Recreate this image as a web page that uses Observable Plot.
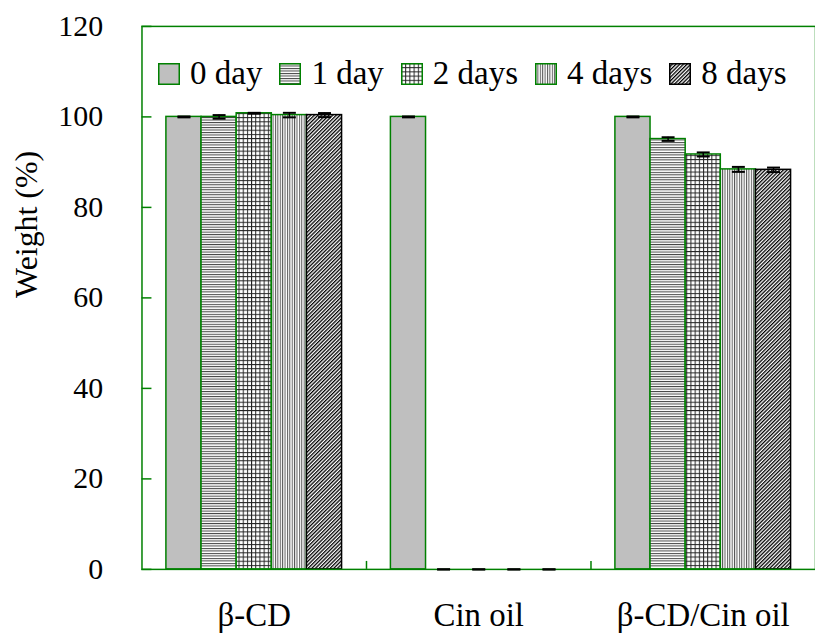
<!DOCTYPE html>
<html>
<head>
<meta charset="utf-8">
<script src="https://cdn.jsdelivr.net/npm/d3@7"></script>
<script src="https://cdn.jsdelivr.net/npm/@observablehq/plot@0.6"></script>
<style>
  html, body { margin: 0; padding: 0; background: #fff; overflow: hidden; }
  #chart { position: relative; width: 815px; height: 635px; overflow: hidden; }
  .legend {
    position: absolute; left: 158px; top: 55px;
    display: flex; align-items: center; gap: 17px;
    font-family: "Liberation Serif", "Times New Roman", serif; font-size: 33px;
    white-space: nowrap; color: #000;
  }
  .legend .item { display: flex; align-items: center; }
  .legend svg { margin-right: 10px; display: block; }
</style>
</head>
<body>
<div id="chart"></div>
<script>
// Groups, storage times and measured weights (% of initial)
const groups = ["β-CD", "Cin oil", "β-CD/Cin oil"];
const days = ["0 day", "1 day", "2 days", "4 days", "8 days"];
const weightBetaCD = [100, 100, 100.8, 100.4, 100.4];
const weightCinOil = [100, 0, 0, 0, 0];
const weightComplex = [100, 95.1, 91.7, 88.4, 88.3];
const errBetaCD = [0.1, 0.4, 0.1, 0.5, 0.45];
const errCinOil = [0.1, 0, 0, 0, 0];
const errComplex = [0.1, 0.4, 0.45, 0.55, 0.5];
const yTicks = [0, 20, 40, 60, 80, 100, 120];

const series = [weightBetaCD, weightCinOil, weightComplex];
const errors = [errBetaCD, errCinOil, errComplex];

// Fill patterns and outline colours for each storage time
const fills = ["#bfbfbf", "url(#hatch-h)", "url(#hatch-grid)", "url(#hatch-v)", "url(#hatch-diag)"];
const outlines = ["#008000", "#008000", "#008000", "#008000", "#000"];
const green = "#008000";
const serif = "'Liberation Serif', 'Times New Roman', serif";

// Each group owns one unit of x; bars are this fraction of a unit wide
const barFrac = 0.1565;
const rows = groups.flatMap((g, gi) => days.map((d, di) => {
  const center = gi + 0.5 + (di - (days.length - 1) / 2) * barFrac;
  return {
    group: g, day: d, dayIndex: di,
    value: series[gi][di], err: errors[gi][di],
    x: center, x1: center - barFrac / 2, x2: center + barFrac / 2
  };
}));
const caps = rows.flatMap(r => [
  {x: r.x, y: r.value - r.err},
  {x: r.x, y: r.value + r.err}
]);

// Horizontal cap for the error bars
const capSymbol = {
  draw(context, size) {
    const r = Math.sqrt(size / Math.PI);
    context.moveTo(-r, 0);
    context.lineTo(r, 0);
  }
};

// Hatch patterns used by bars and legend swatches
function patternDefs() {
  const defs = d3.create("svg:defs");
  const pat = (id, w, h, transform) => {
    const p = defs.append("pattern").attr("id", id)
      .attr("patternUnits", "userSpaceOnUse").attr("width", w).attr("height", h);
    if (transform) p.attr("patternTransform", transform);
    p.append("rect").attr("width", w).attr("height", h).attr("fill", "#fff");
    return p;
  };
  pat("hatch-h", 8, 2.5).append("line")
    .attr("x1", 0).attr("x2", 8).attr("y1", 0.5).attr("y2", 0.5)
    .attr("stroke", "#444").attr("stroke-width", 1);
  const grid = pat("hatch-grid", 4.2, 4.2);
  grid.append("line").attr("x1", 0.5).attr("x2", 0.5).attr("y1", 0).attr("y2", 4.2)
    .attr("stroke", "#222").attr("stroke-width", 1);
  grid.append("line").attr("x1", 0).attr("x2", 4.2).attr("y1", 0.5).attr("y2", 0.5)
    .attr("stroke", "#222").attr("stroke-width", 1);
  pat("hatch-v", 2.4, 8).append("line")
    .attr("x1", 0.5).attr("x2", 0.5).attr("y1", 0).attr("y2", 8)
    .attr("stroke", "#555").attr("stroke-width", 1);
  pat("hatch-diag", 2.6, 10, "rotate(45)").append("line")
    .attr("x1", 0.65).attr("x2", 0.65).attr("y1", 0).attr("y2", 10)
    .attr("stroke", "#000").attr("stroke-width", 1.3);
  return defs.node();
}

const chart = Plot.plot({
  width: 818,
  height: 635,
  marginLeft: 142,
  marginRight: 0,
  marginTop: 26,
  marginBottom: 64,
  style: {fontFamily: serif, fontSize: "30px", color: "#000", background: "#fff"},
  x: {type: "linear", domain: [0, groups.length]},
  y: {domain: [0, 120]},
  marks: [
    patternDefs,
    ...days.map((d, i) => Plot.rectY(rows.filter(r => r.dayIndex === i), {
      x1: "x1", x2: "x2", y: "value",
      fill: fills[i], stroke: outlines[i], strokeWidth: 1.5
    })),
    Plot.frame({stroke: green, strokeWidth: 1.5}),
    Plot.ruleX(rows.filter(r => r.err > 0), {
      x: "x", y1: r => r.value - r.err, y2: r => r.value + r.err,
      stroke: "#000", strokeWidth: 1.5
    }),
    Plot.dot(caps, {x: "x", y: "y", symbol: capSymbol, r: 6.5, fill: "none", stroke: "#000", strokeWidth: 2}),
    Plot.axisY(yTicks, {
      anchor: "left", tickSize: -10, tickPadding: 49, label: null,
      stroke: green, strokeWidth: 1.5, fontSize: 30
    }),
    Plot.axisX(groups.map((g, i) => i + 0.5), {
      anchor: "bottom", tickSize: 0, tickPadding: 33, label: null,
      tickFormat: v => groups[Math.floor(v)], fontSize: 33
    }),
    Plot.axisX(d3.range(1, groups.length), {
      anchor: "bottom", tickSize: -8, tickFormat: () => "", label: null,
      stroke: green, strokeWidth: 1.5
    }),
    Plot.text(["Weight (%)"], {
      text: d => d, frameAnchor: "left", rotate: -90, dx: -116,
      fontSize: 32, lineAnchor: "middle"
    })
  ]
});

const host = document.getElementById("chart");
host.appendChild(chart);

// Legend inside the plot area
const legend = document.createElement("div");
legend.className = "legend";
days.forEach((d, i) => {
  const item = document.createElement("div");
  item.className = "item";
  item.innerHTML = `<svg width="22" height="22"><rect x="0.75" y="0.75" width="20.5" height="20.5" fill="${fills[i]}" stroke="${outlines[i]}" stroke-width="1.5"/></svg><span>${d}</span>`;
  legend.appendChild(item);
});
host.appendChild(legend);
</script>
</body>
</html>
